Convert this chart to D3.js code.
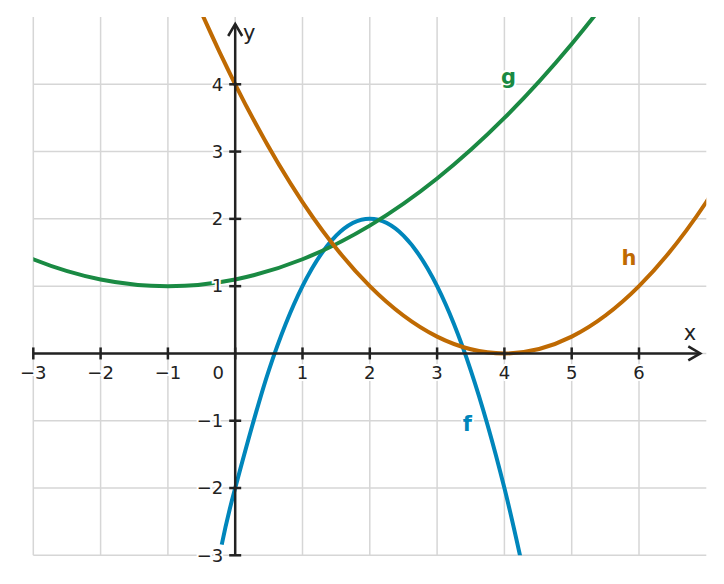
<!DOCTYPE html>
<html>
<head>
<meta charset="utf-8">
<script src="https://cdn.jsdelivr.net/npm/d3@7"></script>
<style>
  body { margin: 0; background: #fff; }
  text { font-family: "DejaVu Sans", sans-serif; fill: #222; }
</style>
</head>
<body>
<script>
//chart data
var xTicks = [-3, -2, -1, 0, 1, 2, 3, 4, 5, 6];
var yTicks = [-3, -2, -1, 1, 2, 3, 4];
var xGrid = [-3, -2, -1, 0, 1, 2, 3, 4, 5, 6];
var yGrid = [-3, -2, -1, 0, 1, 2, 3, 4];

var fX = [-0.2, 0, 0.5, 1, 1.5, 2, 2.5, 3, 3.5, 4, 4.5];
var fY = [-2.84, -2, -0.25, 1, 1.75, 2, 1.75, 1, -0.25, -2, -4.25];

var gX = [-4, -3, -2, -1, 0, 1, 2, 3, 4, 5, 6, 7];
var gY = [1.9, 1.4, 1.1, 1, 1.1, 1.4, 1.9, 2.6, 3.5, 4.6, 5.9, 7.4];

var hX = [-2, -1, 0, 1, 2, 3, 4, 5, 6, 7, 8];
var hY = [9, 6.25, 4, 2.25, 1, 0.25, 0, 0.25, 1, 2.25, 4];

var labels = [
  {name: "f", x: 3.45, y: -1.05, color: "#0086bb"},
  {name: "g", x: 4.06, y: 4.12, color: "#1a8a43"},
  {name: "h", x: 5.85, y: 1.42, color: "#bf6a02"}
];

//scales
var xScale = d3.scaleLinear().domain([-3, 7]).range([33.3, 706.3]);
var yScale = d3.scaleLinear().domain([-3, 5]).range([555.3, 17]);

var svg = d3.select("body").append("svg")
            .attr("width", 724)
            .attr("height", 584);

svg.append("defs").append("clipPath")
   .attr("id", "plot")
   .append("rect")
   .attr("x", xScale(-3))
   .attr("y", yScale(5))
   .attr("width", xScale(7) - xScale(-3))
   .attr("height", yScale(-3) - yScale(5));

//grid
svg.append("g").selectAll("line")
   .data(xGrid).enter().append("line")
   .attr("x1", function(d){ return xScale(d); })
   .attr("x2", function(d){ return xScale(d); })
   .attr("y1", yScale(5))
   .attr("y2", yScale(-3))
   .attr("stroke", "#d6d6d6")
   .attr("stroke-width", 1.5);

svg.append("g").selectAll("line")
   .data(yGrid).enter().append("line")
   .attr("x1", xScale(-3))
   .attr("x2", xScale(7))
   .attr("y1", function(d){ return yScale(d); })
   .attr("y2", function(d){ return yScale(d); })
   .attr("stroke", "#d6d6d6")
   .attr("stroke-width", 1.5);

//curves
var line = d3.line()
             .x(function(d){ return xScale(d[0]); })
             .y(function(d){ return yScale(d[1]); })
             .curve(d3.curveCatmullRom.alpha(0));

var curves = svg.append("g").attr("clip-path", "url(#plot)");

[[fX, fY, labels[0].color], [gX, gY, labels[1].color], [hX, hY, labels[2].color]].forEach(function(c){
  curves.append("path")
        .attr("d", line(d3.zip(c[0], c[1])))
        .attr("fill", "none")
        .attr("stroke", c[2])
        .attr("stroke-width", 4);
});

//axes
var axes = svg.append("g").attr("stroke", "#222").attr("stroke-width", 2.5).attr("fill", "none");
var xTip = xScale(7) - 6;
var yTip = yScale(5) + 7;

axes.append("line")
    .attr("x1", xScale(-3)).attr("x2", xTip)
    .attr("y1", yScale(0)).attr("y2", yScale(0));
axes.append("path")
    .attr("d", "M" + (xTip - 12) + "," + (yScale(0) - 7) + " L" + xTip + "," + yScale(0) +
               " L" + (xTip - 12) + "," + (yScale(0) + 7));

axes.append("line")
    .attr("x1", xScale(0)).attr("x2", xScale(0))
    .attr("y1", yScale(-3)).attr("y2", yTip);
axes.append("path")
    .attr("d", "M" + (xScale(0) - 7) + "," + (yTip + 12) + " L" + xScale(0) + "," + yTip +
               " L" + (xScale(0) + 7) + "," + (yTip + 12));

axes.selectAll(".xt").data(xTicks).enter().append("line")
    .attr("x1", function(d){ return xScale(d); })
    .attr("x2", function(d){ return xScale(d); })
    .attr("y1", yScale(0) - 6).attr("y2", yScale(0) + 6);

axes.selectAll(".yt").data(yTicks).enter().append("line")
    .attr("x1", xScale(0) - 6).attr("x2", xScale(0) + 6)
    .attr("y1", function(d){ return yScale(d); })
    .attr("y2", function(d){ return yScale(d); });

function fmt(d){ return d < 0 ? "\u2212" + Math.abs(d) : String(d); }

//tick labels
svg.append("g").selectAll("text")
   .data(xTicks).enter().append("text")
   .attr("x", function(d){ return d === 0 ? xScale(0) - 17 : xScale(d); })
   .attr("y", yScale(0) + 26)
   .attr("text-anchor", "middle")
   .style("font-size", "18px")
   .attr("stroke", "#fff").attr("stroke-width", 4).attr("paint-order", "stroke")
   .text(fmt);

svg.append("g").selectAll("text")
   .data(yTicks).enter().append("text")
   .attr("x", xScale(0) - 12)
   .attr("y", function(d){ return yScale(d); })
   .attr("dy", "0.35em")
   .attr("text-anchor", "end")
   .style("font-size", "18px")
   .attr("stroke", "#fff").attr("stroke-width", 4).attr("paint-order", "stroke")
   .text(fmt);

//axis names
svg.append("text").attr("x", 690).attr("y", yScale(0) - 13)
   .attr("text-anchor", "middle").style("font-size", "21px").text("x");
svg.append("text").attr("x", xScale(0) + 14).attr("y", 40)
   .attr("text-anchor", "middle").style("font-size", "21px").text("y");

//curve labels
svg.append("g").selectAll("text")
   .data(labels).enter().append("text")
   .attr("x", function(d){ return xScale(d.x); })
   .attr("y", function(d){ return yScale(d.y); })
   .attr("dy", "0.35em")
   .attr("text-anchor", "middle")
   .style("font-size", "21px")
   .style("font-weight", "bold")
   .style("fill", function(d){ return d.color; })
   .attr("stroke", "#fff").attr("stroke-width", 4).attr("paint-order", "stroke")
   .text(function(d){ return d.name; });
</script>
</body>
</html>
